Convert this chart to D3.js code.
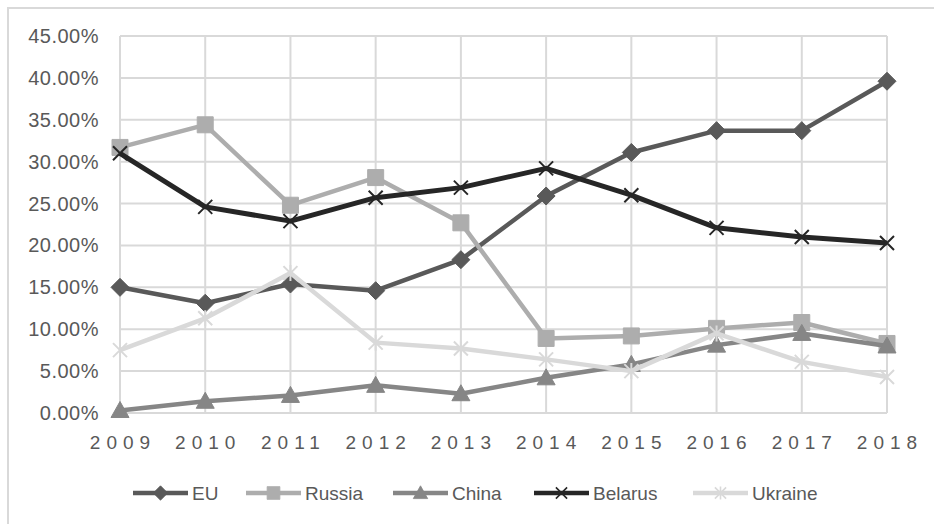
<!DOCTYPE html>
<html>
<head>
<meta charset="utf-8">
<script src="https://cdn.jsdelivr.net/npm/d3@7"></script>
<style>
    body { margin: 0; background: #fff; }
    text { font-family: "Liberation Sans", Arial, sans-serif; fill: #595959; }
</style>
</head>
<body>
<div id="chart"></div>
<script>
const years = ["2009", "2010", "2011", "2012", "2013", "2014", "2015", "2016", "2017", "2018"];
const yTicks = [0, 5, 10, 15, 20, 25, 30, 35, 40, 45];

const euValues = [15.0, 13.1, 15.4, 14.6, 18.3, 25.9, 31.1, 33.7, 33.7, 39.6];
const russiaValues = [31.7, 34.4, 24.8, 28.1, 22.7, 8.9, 9.2, 10.1, 10.8, 8.3];
const chinaValues = [0.3, 1.4, 2.1, 3.3, 2.3, 4.2, 5.8, 8.1, 9.5, 8.0];
const belarusValues = [31.0, 24.6, 22.9, 25.7, 26.9, 29.2, 26.0, 22.1, 21.0, 20.3];
const ukraineValues = [7.5, 11.3, 16.7, 8.4, 7.7, 6.4, 5.0, 9.5, 6.1, 4.3];

const seriesNames = ["EU", "Russia", "China", "Belarus", "Ukraine"];
const seriesColors = ["#595959", "#adadad", "#868686", "#262626", "#d9d9d9"];
const seriesMarkers = ["diamond", "square", "triangle", "cross", "star"];

const series = seriesNames.map((name, i) => ({
    name: name,
    values: [euValues, russiaValues, chinaValues, belarusValues, ukraineValues][i],
    color: seriesColors[i],
    marker: seriesMarkers[i]
}));

const width = 934, height = 524;
const margin = { top: 36, right: 47, bottom: 111, left: 120 };

const svg = d3.select("#chart")
    .append("svg")
    .attr("width", width)
    .attr("height", height);

// chart frame (only left and top edges are visible)
svg.append("rect")
    .attr("x", 8)
    .attr("y", 8)
    .attr("width", 1000)
    .attr("height", 600)
    .attr("fill", "none")
    .attr("stroke", "#d9d9d9")
    .attr("stroke-width", 2);

const x = d3.scalePoint()
    .domain(years)
    .range([margin.left, width - margin.right]);

const y = d3.scaleLinear()
    .domain([0, 45])
    .range([height - margin.bottom, margin.top]);

// grid
svg.append("g")
    .selectAll("line.h")
    .data(yTicks)
    .enter()
    .append("line")
    .attr("class", "h")
    .attr("x1", margin.left)
    .attr("x2", width - margin.right)
    .attr("y1", d => y(d))
    .attr("y2", d => y(d))
    .attr("stroke", "#d9d9d9")
    .attr("stroke-width", 2);

svg.append("g")
    .selectAll("line.v")
    .data(years)
    .enter()
    .append("line")
    .attr("class", "v")
    .attr("x1", d => x(d))
    .attr("x2", d => x(d))
    .attr("y1", y(0))
    .attr("y2", y(45))
    .attr("stroke", "#d9d9d9")
    .attr("stroke-width", 2);

// y labels
svg.append("g")
    .selectAll("text")
    .data(yTicks)
    .enter()
    .append("text")
    .attr("x", 99)
    .attr("y", d => y(d))
    .attr("dy", "0.35em")
    .attr("text-anchor", "end")
    .style("font-size", "20px")
    .style("letter-spacing", "0.5px")
    .text(d => d.toFixed(2) + "%");

// x labels
svg.append("g")
    .selectAll("text")
    .data(years)
    .enter()
    .append("text")
    .attr("x", d => x(d) + 3)
    .attr("y", 449)
    .attr("text-anchor", "middle")
    .style("font-size", "19px")
    .style("letter-spacing", "6px")
    .text(d => d);

const markerPath = (type) => {
    switch (type) {
        case "diamond": return "M0,-9L9,0L0,9L-9,0Z";
        case "square": return "M-8,-8H8V8H-8Z";
        case "triangle": return "M0,-9L9,7H-9Z";
        case "cross": return "M-7,-7L7,7M-7,7L7,-7";
        case "star": return "M-7,-7L7,7M-7,7L7,-7M0,-8V8";
    }
};

const drawMarker = (sel, s) => {
    const filled = s.marker !== "cross" && s.marker !== "star";
    sel.append("path")
        .attr("d", markerPath(s.marker))
        .attr("fill", filled ? s.color : "none")
        .attr("stroke", s.color)
        .attr("stroke-width", filled ? 1 : 2);
};

const line = d3.line()
    .x((d, i) => x(years[i]))
    .y(d => y(d));

series.forEach(s => {
    const g = svg.append("g");
    g.append("path")
        .datum(s.values)
        .attr("d", line)
        .attr("fill", "none")
        .attr("stroke", s.color)
        .attr("stroke-width", s.name === "Belarus" ? 5 : 4.5)
        .attr("stroke-linejoin", "round");

    g.selectAll("g.m")
        .data(s.values)
        .enter()
        .append("g")
        .attr("class", "m")
        .attr("transform", (d, i) => `translate(${x(years[i])},${y(d)})`)
        .each(function () { drawMarker(d3.select(this), s); });
});

// legend
const legendX = [133, 246, 393, 534, 693];
const legendY = 493;

series.forEach((s, i) => {
    const g = svg.append("g")
        .attr("transform", `translate(${legendX[i]},${legendY})`);
    g.append("line")
        .attr("x1", 0)
        .attr("x2", 55)
        .attr("stroke", s.color)
        .attr("stroke-width", 4.5);
    const m = g.append("g")
        .attr("transform", "translate(27.5,0) scale(0.8)");
    drawMarker(m, s);
    g.append("text")
        .attr("x", 59)
        .attr("y", 0)
        .attr("dy", "0.35em")
        .style("font-size", "19px")
        .text(s.name);
});
</script>
</body>
</html>
